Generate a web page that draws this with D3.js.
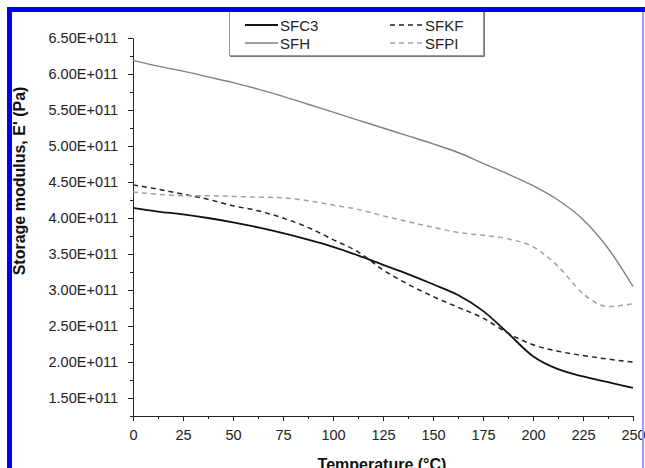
<!DOCTYPE html>
<html>
<head>
<meta charset="utf-8">
<script src="https://cdn.jsdelivr.net/npm/d3@7"></script>
<style>
  html, body { margin: 0; padding: 0; background: #fff; overflow: hidden; }
  svg { display: block; font-family: "Liberation Sans", Arial, sans-serif; }
</style>
</head>
<body>
<svg width="645" height="468"></svg>
<script>
// temperature steps (°C) and storage modulus values, in units of 1E+011 Pa
const temps = [0, 12.5, 25, 37.5, 50, 62.5, 75, 87.5, 100, 112.5, 125, 137.5, 150, 162.5, 175, 187.5, 200, 212.5, 225, 237.5, 250];
const sfc3 = [4.14, 4.09, 4.05, 4.00, 3.94, 3.87, 3.79, 3.70, 3.60, 3.48, 3.35, 3.22, 3.08, 2.93, 2.71, 2.40, 2.08, 1.90, 1.80, 1.72, 1.64];
const sfkf = [4.46, 4.40, 4.33, 4.26, 4.17, 4.10, 4.00, 3.87, 3.70, 3.53, 3.28, 3.08, 2.91, 2.76, 2.61, 2.40, 2.24, 2.15, 2.09, 2.04, 2.00];
const sfh  = [6.19, 6.11, 6.04, 5.96, 5.88, 5.79, 5.69, 5.58, 5.47, 5.36, 5.25, 5.14, 5.03, 4.91, 4.76, 4.61, 4.45, 4.25, 3.98, 3.58, 3.05];
const sfpi = [4.36, 4.33, 4.31, 4.31, 4.30, 4.29, 4.28, 4.24, 4.18, 4.12, 4.03, 3.95, 3.87, 3.80, 3.76, 3.71, 3.60, 3.33, 2.95, 2.77, 2.81];

const xTicks = [0, 25, 50, 75, 100, 125, 150, 175, 200, 225, 250];
const yTicks = [1.5, 2.0, 2.5, 3.0, 3.5, 4.0, 4.5, 5.0, 5.5, 6.0, 6.5];

const seriesNames = ["SFC3", "SFH", "SFKF", "SFPI"];
const seriesValues = [sfc3, sfh, sfkf, sfpi];

// style per series
const styles = {
  SFC3: { color: "#111", width: 1.8, dash: null },
  SFH:  { color: "#808080", width: 1.4, dash: null },
  SFKF: { color: "#222", width: 1.5, dash: "5,4" },
  SFPI: { color: "#a0a0a0", width: 1.5, dash: "5,4" }
};

const svg = d3.select("svg");

// plot area
const plotLeft = 133, plotRight = 633, plotTop = 38, plotBottom = 416;

const x = d3.scaleLinear().domain([0, 250]).range([plotLeft, plotRight]);
const y = d3.scaleLinear().domain([1.25, 6.5]).range([plotBottom, plotTop]);

// minor ticks
svg.append("g")
  .attr("transform", `translate(0, ${plotBottom})`)
  .call(d3.axisBottom(x).tickValues(d3.range(12.5, 250, 25)).tickSize(3).tickFormat(""))
  .call(g => g.select(".domain").remove());
svg.append("g")
  .attr("transform", `translate(${plotLeft}, 0)`)
  .call(d3.axisLeft(y).tickValues(d3.range(1.25, 6.5, 0.5)).tickSize(3).tickFormat(""))
  .call(g => g.select(".domain").remove());

// major axes
svg.append("g")
  .attr("transform", `translate(0, ${plotBottom})`)
  .call(d3.axisBottom(x).tickValues(xTicks).tickSizeInner(5).tickSizeOuter(0).tickPadding(9));
svg.append("g")
  .attr("transform", `translate(${plotLeft}, 0)`)
  .call(d3.axisLeft(y).tickValues(yTicks).tickSizeInner(5).tickSizeOuter(0).tickPadding(10)
    .tickFormat(d => d.toFixed(2) + "E+011"));

svg.selectAll(".tick text").attr("font-size", 14.5).attr("fill", "#222")
  .style("font-family", "'Liberation Sans', Arial, sans-serif");
svg.selectAll(".domain, .tick line").attr("stroke", "#222");

// lines
const line = d3.line()
  .curve(d3.curveMonotoneX)
  .x(d => x(d[0]))
  .y(d => y(d[1]));

seriesNames.forEach((name, i) => {
  const s = styles[name];
  svg.append("path")
    .datum(temps.map((t, j) => [t, seriesValues[i][j]]))
    .attr("fill", "none")
    .attr("stroke", s.color)
    .attr("stroke-width", s.width)
    .attr("stroke-dasharray", s.dash)
    .attr("d", line);
});

// legend
const legend = svg.append("g");
legend.append("rect")
  .attr("x", 229.5).attr("y", 9.5).attr("width", 254).attr("height", 46)
  .attr("fill", "#fff").attr("stroke", "#999");
legend.append("path")
  .attr("d", "M230,56.5H484.5V10").attr("fill", "none").attr("stroke", "#777");

const legendPos = [[245, 25], [245, 43], [390, 25], [390, 43]];
seriesNames.forEach((name, i) => {
  const s = styles[name];
  const [lx, ly] = legendPos[i];
  legend.append("line")
    .attr("x1", lx).attr("x2", lx + 33).attr("y1", ly).attr("y2", ly)
    .attr("stroke", s.color).attr("stroke-width", s.width)
    .attr("stroke-dasharray", s.dash);
  legend.append("text")
    .attr("x", lx + 35).attr("y", ly + 5.5)
    .attr("font-size", 15).attr("fill", "#222")
    .text(name);
});

// axis titles
svg.append("text")
  .attr("x", 382).attr("y", 470)
  .attr("text-anchor", "middle")
  .attr("font-size", 16).attr("font-weight", "bold").attr("fill", "#111")
  .text("Temperature (°C)");
svg.append("text")
  .attr("transform", "translate(25, 181) rotate(-90)")
  .attr("text-anchor", "middle")
  .attr("font-size", 16).attr("font-weight", "bold").attr("fill", "#111")
  .text("Storage modulus, E' (Pa)");

// blue frame
svg.append("rect").attr("x", 7).attr("y", 7).attr("width", 638).attr("height", 5).attr("fill", "#0000f0");
svg.append("rect").attr("x", 7).attr("y", 7).attr("width", 5).attr("height", 461).attr("fill", "#0000f0");
svg.append("rect").attr("x", 642).attr("y", 12).attr("width", 2).attr("height", 456).attr("fill", "#9a9aff");
</script>
</body>
</html>
